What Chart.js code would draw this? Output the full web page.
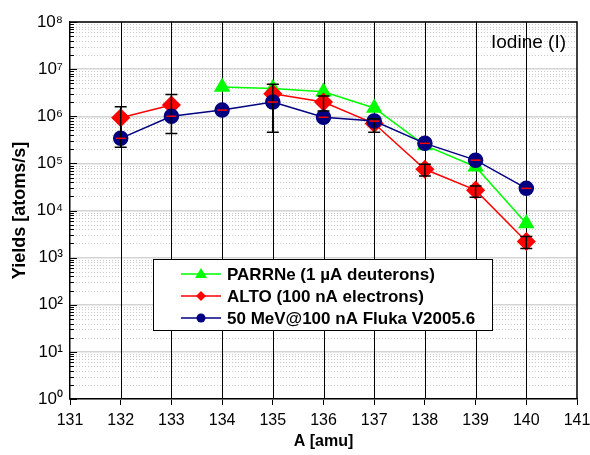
<!DOCTYPE html>
<html>
<head>
<meta charset="utf-8">
<script src="https://cdn.jsdelivr.net/npm/chart.js@4/dist/chart.umd.min.js"></script>
<style>
  html, body { margin: 0; padding: 0; background: #fff; }
  #wrap { width: 590px; height: 455px; position: relative; }
</style>
</head>
<body>
<div id="wrap"><canvas id="yields-chart" width="590" height="455"></canvas></div>
<script>
// Iodine yields vs mass number
const massNumbers = [132, 133, 134, 135, 136, 137, 138, 139, 140];
const parrneYields = [null, null, 4.2e6, 3.9e6, 3.3e6, 1.5e6, 2.4e5, 8.5e4, 5.3e3];
const altoYields = [9.3e5, 1.73e6, null, 3.0e6, 2.0e6, 7.0e5, 7.5e4, 2.7e4, 2.2e3];
const flukaYields = [3.4e5, 1.0e6, 1.35e6, 2.0e6, 9.5e5, 7.9e5, 2.66e5, 1.17e5, 2.95e4];
const errLow = [2.2e5, 4.3e5, null, 4.6e5, 1.3e6, 4.6e5, 5.4e4, 1.9e4, 1.57e3];
const errHigh = [1.6e6, 2.9e6, null, 4.8e6, 2.7e6, 8.9e5, 9.6e4, 3.3e4, 2.8e3];
const decadeExponents = [0, 1, 2, 3, 4, 5, 6, 7, 8];
const seriesLabels = ['PARRNe (1 \u00b5A deuterons)', 'ALTO (100 nA electrons)', '50 MeV@100 nA Fluka V2005.6'];

const SUP = ['\u2070', '\u00b9', '\u00b2', '\u00b3', '\u2074', '\u2075', '\u2076', '\u2077', '\u2078', '\u2079'];
const FONT = '"Liberation Sans", Arial, sans-serif';

function toPoints(values) {
    return massNumbers.map((m, i) => ({ x: m, y: values[i] }));
}

// minor dotted grid (under everything), black verticals + inner ticks on top of the grid
const minorGridPlugin = {
    id: 'minorGrid',
    beforeDraw(chart) {
        const ctx = chart.ctx;
        const area = chart.chartArea;
        const y = chart.scales.y;
        ctx.save();
        ctx.strokeStyle = '#c8c8c8';
        ctx.lineWidth = 1;
        ctx.setLineDash([1, 2]);
        for (let e = 0; e < 8; e++) {
            for (let k = 2; k <= 9; k++) {
                const py = Math.round(y.getPixelForValue(k * Math.pow(10, e))) + 0.5;
                ctx.beginPath();
                ctx.moveTo(area.left, py);
                ctx.lineTo(area.right, py);
                ctx.stroke();
            }
        }
        ctx.restore();
    },
    beforeDatasetsDraw(chart) {
        const ctx = chart.ctx;
        const area = chart.chartArea;
        const x = chart.scales.x;
        const y = chart.scales.y;
        ctx.save();
        ctx.strokeStyle = '#000';
        ctx.lineWidth = 1;
        massNumbers.forEach(m => {
            const px = Math.round(x.getPixelForValue(m)) + 0.5;
            ctx.beginPath();
            ctx.moveTo(px, area.top);
            ctx.lineTo(px, area.bottom);
            ctx.stroke();
        });
        for (let e = 0; e < 8; e++) {
            for (let k = 2; k <= 9; k++) {
                const py = Math.round(y.getPixelForValue(k * Math.pow(10, e))) + 0.5;
                ctx.beginPath();
                ctx.moveTo(area.left, py);
                ctx.lineTo(area.left + 4, py);
                ctx.stroke();
            }
        }
        decadeExponents.forEach(e => {
            const py = Math.round(y.getPixelForValue(Math.pow(10, e))) + 0.5;
            ctx.beginPath();
            ctx.moveTo(area.left, py);
            ctx.lineTo(area.left + 7, py);
            ctx.stroke();
        });
        ctx.restore();
    }
};

const overlayPlugin = {
    id: 'overlay',
    afterDatasetsDraw(chart) {
        const ctx = chart.ctx;
        const xs = chart.scales.x;
        const ys = chart.scales.y;
        ctx.save();
        // error bars
        ctx.strokeStyle = '#000';
        ctx.lineWidth = 1.5;
        massNumbers.forEach((m, i) => {
            if (errLow[i] == null) return;
            const px = xs.getPixelForValue(m);
            const top = ys.getPixelForValue(errHigh[i]);
            const bot = ys.getPixelForValue(errLow[i]);
            ctx.beginPath();
            ctx.moveTo(px, top);
            ctx.lineTo(px, bot);
            ctx.moveTo(px - 6, top);
            ctx.lineTo(px + 6, top);
            ctx.moveTo(px - 6, bot);
            ctx.lineTo(px + 6, bot);
            ctx.stroke();
        });
        // red marks inside fluka circles
        ctx.strokeStyle = '#ff0000';
        ctx.lineWidth = 1.5;
        massNumbers.forEach((m, i) => {
            const px = xs.getPixelForValue(m);
            const py = ys.getPixelForValue(flukaYields[i]);
            ctx.beginPath();
            ctx.moveTo(px - 5, py);
            ctx.lineTo(px + 5, py);
            ctx.stroke();
        });
        ctx.restore();
    },
    afterDraw(chart) {
        const ctx = chart.ctx;
        const area = chart.chartArea;
        ctx.save();
        // frame top/right
        ctx.strokeStyle = '#000';
        ctx.lineWidth = 1.5;
        ctx.beginPath();
        ctx.moveTo(area.left, area.top);
        ctx.lineTo(area.right, area.top);
        ctx.lineTo(area.right, area.bottom);
        ctx.stroke();

        // element label
        ctx.fillStyle = '#000';
        ctx.font = '19px ' + FONT;
        ctx.textAlign = 'right';
        ctx.textBaseline = 'middle';
        ctx.fillText('Iodine (I)', area.right - 11, 43);

        // legend box
        const bx = 153, by = 259, bw = 339, bh = 71;
        ctx.fillStyle = '#fff';
        ctx.fillRect(bx, by, bw, bh);
        ctx.strokeStyle = '#000';
        ctx.lineWidth = 1;
        ctx.strokeRect(bx + 0.5, by + 0.5, bw, bh);
        const ds = chart.data.datasets;
        [2, 1, 0].forEach((di, row) => {
            const d = ds[di];
            const ly = 274 + row * 22;
            ctx.strokeStyle = d.borderColor;
            ctx.lineWidth = 1.5;
            ctx.beginPath();
            ctx.moveTo(181, ly);
            ctx.lineTo(221, ly);
            ctx.stroke();
            ctx.fillStyle = d.backgroundColor;
            ctx.beginPath();
            if (d.pointStyle === 'triangle') {
                ctx.moveTo(201, ly - 6);
                ctx.lineTo(207, ly + 4);
                ctx.lineTo(195, ly + 4);
            } else if (d.pointStyle === 'rectRot') {
                ctx.moveTo(201, ly - 5);
                ctx.lineTo(206, ly);
                ctx.lineTo(201, ly + 5);
                ctx.lineTo(196, ly);
            } else {
                ctx.arc(201, ly, 4.5, 0, Math.PI * 2);
            }
            ctx.closePath();
            ctx.fill();
            ctx.fillStyle = '#000';
            ctx.font = 'bold 17px ' + FONT;
            ctx.textAlign = 'left';
            ctx.fillText(d.label, 227, ly + 1);
        });
        ctx.restore();
    }
};

const ctx = document.getElementById('yields-chart').getContext('2d');
const yieldsChart = new Chart(ctx, {
    type: 'line',
    data: {
        datasets: [
            {
                label: seriesLabels[2],
                data: toPoints(flukaYields),
                borderColor: '#000080',
                backgroundColor: '#000080',
                pointStyle: 'circle',
                pointRadius: 7,
                borderWidth: 1.5,
                order: 0
            },
            {
                label: seriesLabels[1],
                data: toPoints(altoYields),
                borderColor: '#ff0000',
                backgroundColor: '#ff0000',
                pointStyle: 'rectRot',
                pointRadius: 8.5,
                borderWidth: 1.5,
                spanGaps: false,
                order: 1
            },
            {
                label: seriesLabels[0],
                data: toPoints(parrneYields),
                borderColor: '#00ff00',
                backgroundColor: '#00ff00',
                pointStyle: 'triangle',
                pointRadius: 8,
                borderWidth: 1.5,
                order: 2
            }
        ]
    },
    options: {
        responsive: false,
        animation: false,
        layout: { padding: { top: 22, right: 0, left: 0, bottom: 0 } },
        elements: { line: { tension: 0 }, point: { borderWidth: 0, hoverRadius: 7 } },
        plugins: {
            legend: { display: false },
            tooltip: { enabled: false }
        },
        scales: {
            x: {
                type: 'linear',
                min: 131,
                max: 141,
                ticks: {
                    stepSize: 1,
                    color: '#000',
                    font: { family: FONT, size: 16 },
                    padding: 6
                },
                grid: { drawOnChartArea: false, tickLength: 6, tickColor: '#000' },
                border: { color: '#000', width: 1.5 },
                title: {
                    display: true,
                    text: 'A [amu]',
                    color: '#000',
                    font: { family: FONT, size: 16, weight: 'bold' },
                    padding: { top: 10 }
                },
                afterFit(scale) {
                    scale.height = 56;
                    scale.paddingLeft = 0;
                    scale.paddingRight = 13;
                }
            },
            y: {
                type: 'logarithmic',
                min: 1,
                max: 1e8,
                afterBuildTicks(scale) {
                    scale.ticks = decadeExponents.map(e => ({ value: Math.pow(10, e) }));
                },
                ticks: {
                    color: '#000',
                    font: { family: FONT, size: 17 },
                    padding: 7,
                    callback(value) {
                        const e = Math.round(Math.log10(value));
                        return '10' + SUP[e];
                    }
                },
                grid: { color: '#d4d4d4', lineWidth: 1.5, drawTicks: false },
                border: { color: '#000', width: 1.5 },
                title: {
                    display: true,
                    text: 'Yields [atoms/s]',
                    color: '#000',
                    font: { family: FONT, size: 18, weight: 'bold' },
                    padding: { top: 9, bottom: 0 }
                },
                afterFit(scale) {
                    scale.width = 70;
                    scale.paddingTop = 0;
                    scale.paddingBottom = 0;
                }
            }
        }
    },
    plugins: [minorGridPlugin, overlayPlugin]
});
</script>
</body>
</html>
